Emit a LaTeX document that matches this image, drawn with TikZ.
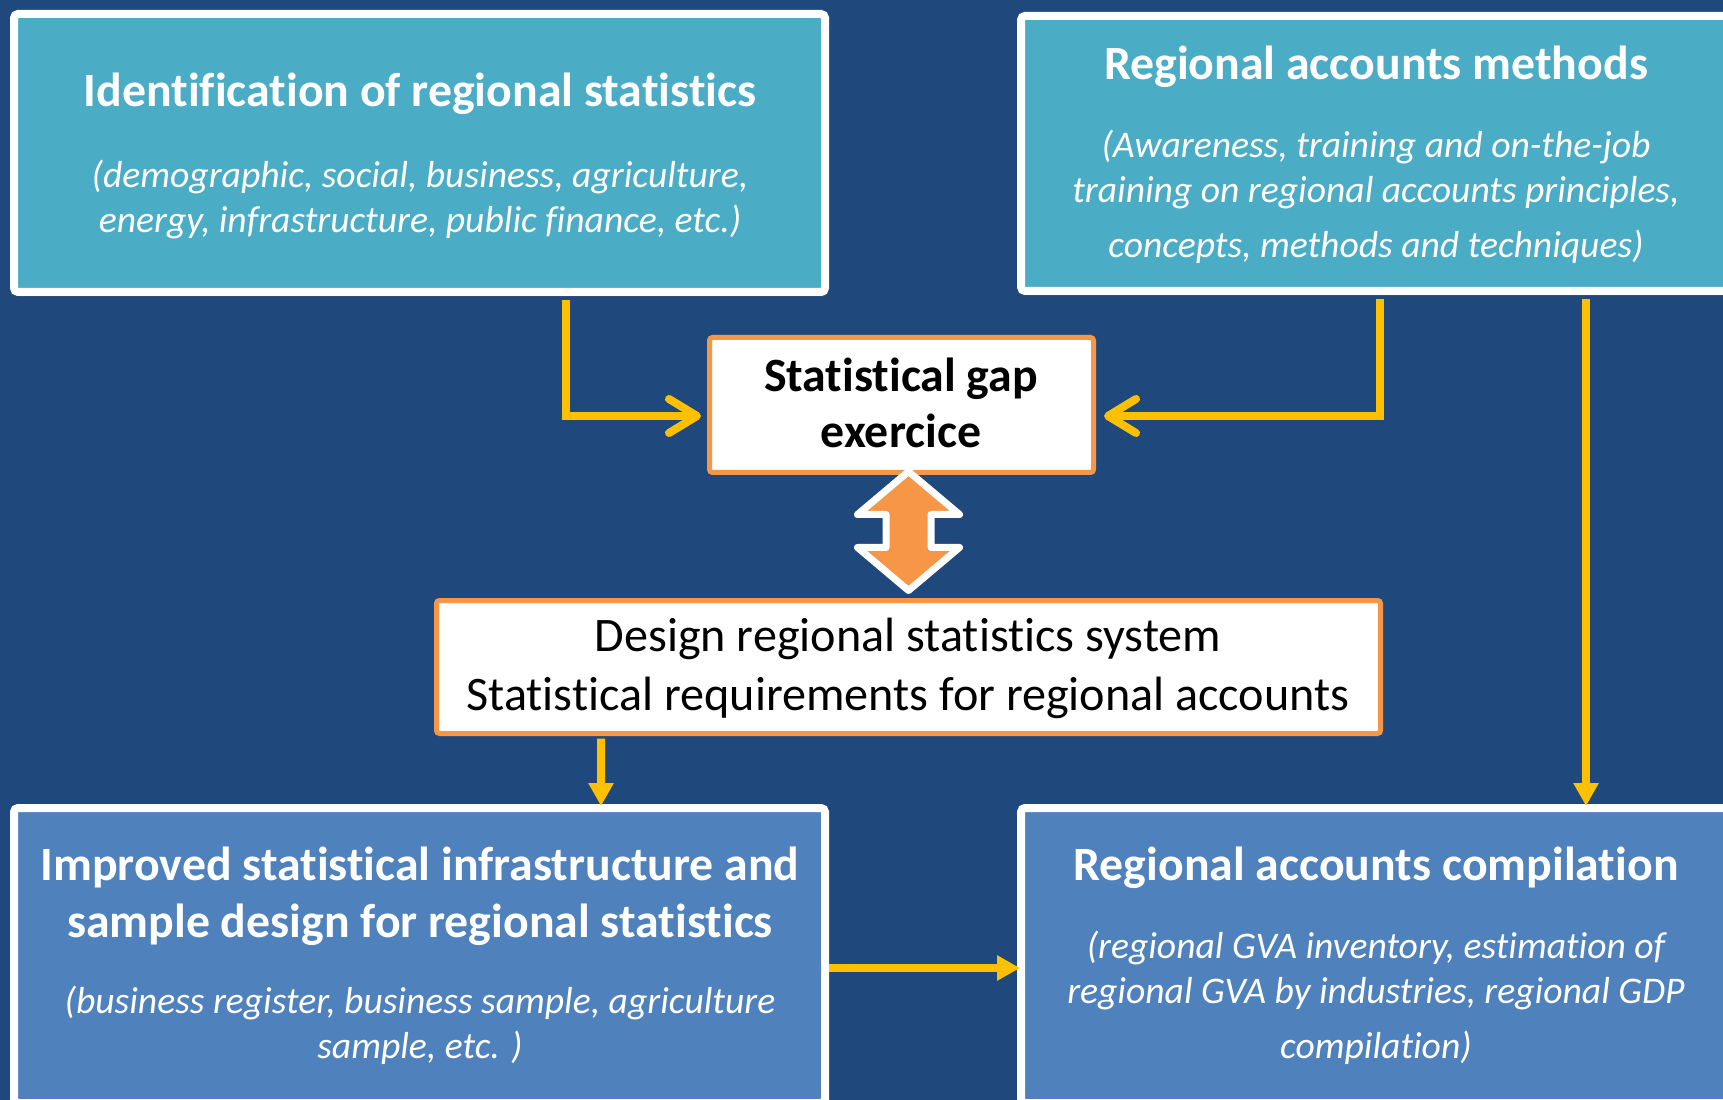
\documentclass[tikz,border=0pt]{standalone}
\usepackage{fontspec}
\setmainfont[Ligatures=NoCommon]{Carlito}
\usetikzlibrary{arrows.meta,calc,shadows}
\definecolor{darkbg}{RGB}{31,73,125}
\definecolor{tealbox}{RGB}{75,172,198}
\definecolor{bluebox}{RGB}{79,129,189}
\definecolor{gaporange}{RGB}{247,150,70}
\definecolor{flowyellow}{RGB}{255,192,0}
\begin{document}
\begin{tikzpicture}
[x=0.1mm,y=-0.1mm,
panel/.style={rectangle,draw=white,line width=0.8mm,rounded corners=0.4mm,inner sep=0pt,
  drop shadow={shadow xshift=0.15mm,shadow yshift=-0.45mm,opacity=0.45}},
toppanel/.style={panel,fill=tealbox},
lowpanel/.style={panel,fill=bluebox},
gapbox/.style={rectangle,draw=gaporange,fill=white,line width=0.5mm,rounded corners=0.3mm,inner sep=0pt},
head/.style={text=white,anchor=base,font=\fontsize{13.6}{16}\selectfont\bfseries},
sub/.style={text=white,anchor=base,font=\fontsize{10.7}{13}\selectfont\itshape},
flow/.style={draw=flowyellow,line width=0.8mm},
barb/.style={flow,-{Straight Barb[length=2.8mm,width=3.4mm,round]}},
tri/.style={flow,-{Triangle[length=2.3mm,width=2.4mm]}},
dblarrow/.style={fill=gaporange,draw=white,line width=0.7mm,line join=round}]
\useasboundingbox (0,0) rectangle (1723,1100);
\clip (0,0) rectangle (1723,1100);
\fill[darkbg] (0,0) rectangle (1723,1100);

% boxes
\node[toppanel,minimum width=81.1mm,minimum height=27.8mm] (ident) at (419.5,153) {};
\node[toppanel,minimum width=71mm,minimum height=27.5mm] (method) at (1376,153.5) {};
\node[lowpanel,minimum width=81.1mm,minimum height=29.5mm] (improved) at (419.5,955.5) {};
\node[lowpanel,minimum width=71mm,minimum height=29.5mm] (compile) at (1376,955.5) {};
\node[gapbox,minimum width=38.4mm,minimum height=13.5mm] (gap) at (901.5,405) {};
\node[gapbox,minimum width=94.4mm,minimum height=13.3mm] (design) at (908.5,667) {};

% texts
\node[head] (identhead) at (420,107) {Identification of regional statistics};
\foreach \i/\y/\t in {1/188/{(demographic, social, business, agriculture,},
                      2/233/{energy, infrastructure, public finance, etc.)}}
  \node[sub] (identsub\i) at (420,\y) {\t};

\node[head] (methodhead) at (1376,80) {Regional accounts methods};
\foreach \i/\y/\t in {1/158/{(Awareness, training and on-the-job},
                      2/203/{training on regional accounts principles,},
                      3/258/{concepts, methods and techniques)}}
  \node[sub] (methodsub\i) at (1376,\y) {\t};

\node[head,text=black] (gaphead1) at (901,392) {Statistical gap};
\node[head,text=black] (gaphead2) at (901,448) {exercice};

\node[head,text=black,font=\fontsize{13.7}{16}\selectfont] (design1) at (908,652) {Design regional statistics system};
\node[head,text=black,font=\fontsize{13.7}{16}\selectfont] (design2) at (908,710) {Statistical requirements for regional accounts};

\node[head] (improvedhead1) at (420,880) {Improved statistical infrastructure and};
\node[head] (improvedhead2) at (420,937) {sample design for regional statistics};
\foreach \i/\y/\t in {1/1013/{(business register, business sample, agriculture},
                      2/1058/{sample, etc. )}}
  \node[sub] (improvedsub\i) at (420,\y) {\t};

\node[head] (compilehead) at (1376,880) {Regional accounts compilation};
\foreach \i/\y/\t in {1/958/{(regional GVA inventory, estimation of},
                      2/1003/{regional GVA by industries, regional GDP},
                      3/1058/{compilation)}}
  \node[sub] (compilesub\i) at (1376,\y) {\t};

% connectors
\draw[barb] ($(ident.south)+(146.5,4)$) |- ($(gap.west)+(-6,11)$);
\draw[barb] ($(method.south)+(4,4)$) |- ($(gap.east)+(8,11)$);
\draw[tri] ($(method.south)+(210,4)$) -- ($(compile.north)+(210,2)$);
\draw[tri] ($(design.south)+(-307.5,2.5)$) -- ($(improved.north)+(181.5,2)$);
\draw[tri] ($(improved.east)+(0,12.5)$) -- ($(compile.west)+(3,12.5)$);
\draw[dblarrow,shift={(design.north)}] (0,-126.5) -- (51,-83.5) -- (22.5,-83.5) -- (22.5,-50.5)
  -- (51,-50.5) -- (0,-7.5) -- (-51,-50.5) -- (-22.5,-50.5) -- (-22.5,-83.5) -- (-51,-83.5) -- cycle;
\end{tikzpicture}
\end{document}
